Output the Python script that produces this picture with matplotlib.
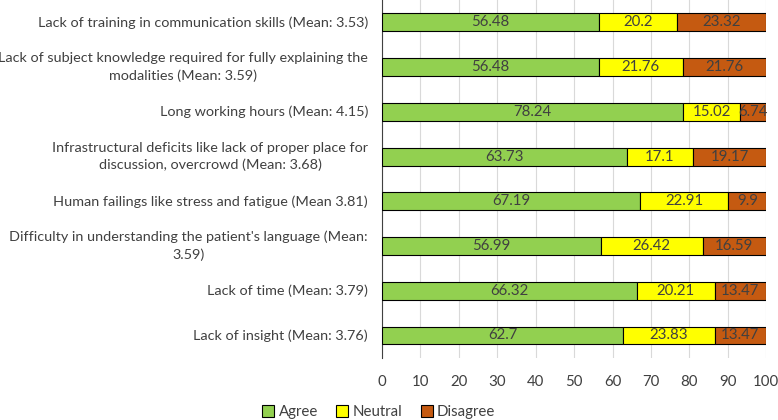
import matplotlib
matplotlib.use("Agg")
from matplotlib import pyplot as plt
from matplotlib import transforms
import numpy as np

plt.rcParams['font.family'] = ['Lato', 'DejaVu Sans']

categories = [
    "Lack of training in communication skills (Mean: 3.53)",
    "Lack of subject knowledge required for fully explaining the\nmodalities (Mean: 3.59)",
    "Long working hours (Mean: 4.15)",
    "Infrastructural deficits like lack of proper place for\ndiscussion, overcrowd (Mean: 3.68)",
    "Human failings like stress and fatigue (Mean 3.81)",
    "Difficulty in understanding the patient's language (Mean:\n3.59)",
    "Lack of time (Mean: 3.79)",
    "Lack of insight (Mean: 3.76)",
]
agree = [56.48, 56.48, 78.24, 63.73, 67.19, 56.99, 66.32, 62.7]
neutral = [20.2, 21.76, 15.02, 17.1, 22.91, 26.42, 20.21, 23.83]
disagree = [23.32, 21.76, 6.74, 19.17, 9.9, 16.59, 13.47, 13.47]

series = [("Agree", agree, "#92D050"),
          ("Neutral", neutral, "#FFFF00"),
          ("Disagree", disagree, "#C55A11")]

fig = plt.figure(figsize=(7.78, 4.2), dpi=100)
ax = fig.add_axes([0.491, 0.148, 0.494, 0.852])

y = np.arange(len(categories))
left = np.zeros(len(categories))
for name, vals, col in series:
    vals = np.array(vals)
    bars = ax.barh(y, vals, left=left, height=0.4, color=col,
                   edgecolor="black", linewidth=0.8, label=name, zorder=3)
    ax.bar_label(bars, labels=[f"{v:g}" for v in vals], label_type="center",
                 color="#404040", fontsize=10.8, zorder=4)
    left += vals

ax.set_xlim(0, 100)
ax.set_ylim(len(categories) - 0.5, -0.5)
ax.set_xticks(np.arange(0, 101, 10))
ax.set_yticks(y)
ax.set_yticklabels([])

# y labels drawn by hand so the two-line ones are centred
trans = transforms.offset_copy(ax.get_yaxis_transform(), fig=fig, x=-10, y=0, units="points")
for yi, lab in zip(y, categories):
    ax.text(0, yi, lab, transform=trans, ha="right", va="center",
            multialignment="center", linespacing=1.5, fontsize=10.4, color="#404040")

ax.tick_params(axis="both", length=0, labelcolor="#404040")
ax.tick_params(axis="x", pad=12, labelsize=10.8)
ax.xaxis.grid(True, color="#D9D9D9", linewidth=0.8, zorder=0)
for s in ["top", "right", "bottom"]:
    ax.spines[s].set_visible(False)
ax.spines["left"].set_color("#404040")

handles, labels = ax.get_legend_handles_labels()
fig.legend(handles, labels, loc="lower center", bbox_to_anchor=(0.487, -0.03),
           ncol=3, frameon=False, fontsize=10.8, handlelength=0.8, handleheight=0.8,
           handletextpad=0.3, columnspacing=1.2, labelcolor="#404040")

fig.savefig("out.png", dpi=100)
